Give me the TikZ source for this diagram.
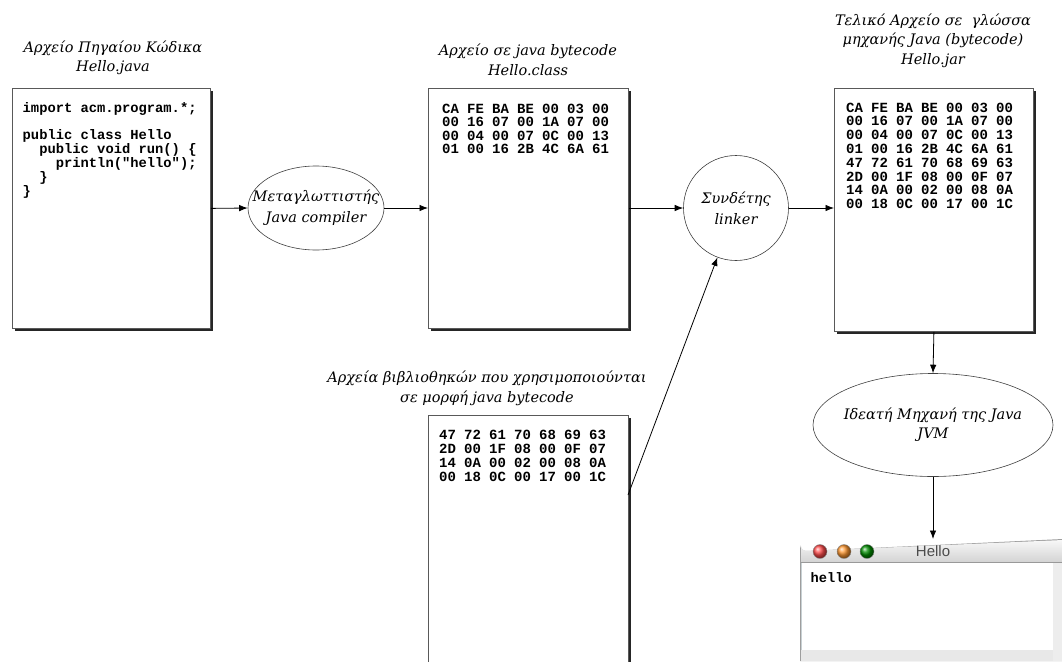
\documentclass[tikz,border=0pt]{standalone}
\usepackage{fontspec}
\setmainfont{DejaVu Serif}
\setmonofont{Liberation Mono}
\newfontfamily\winfont{Liberation Sans}
\usetikzlibrary{arrows.meta,shapes.geometric,shadows}
\newcommand{\hx}[1]{\makebox[25pt][l]{#1}}
\newcommand{\hexrow}[7]{\hx{#1}\hx{#2}\hx{#3}\hx{#4}\hx{#5}\hx{#6}#7}
\tikzset{
  filebox/.style={draw=black!65, fill=white, line width=0.8pt, inner sep=0pt,
    anchor=north west,
    drop shadow={shadow xshift=3pt, shadow yshift=-3pt, fill=black!85, opacity=1}},
  codetext/.style={anchor=north west, align=left, inner sep=0pt,
    font=\ttfamily\bfseries\fontsize{13.8}{13.8}\selectfont},
  hextext/.style={anchor=north west, align=left, inner sep=0pt,
    font=\ttfamily\bfseries\fontsize{14}{13.6}\selectfont},
  title/.style={align=center, inner sep=0pt,
    font=\itshape\fontsize{14.5}{19.5}\selectfont},
  proc/.style={draw=black!75, line width=0.6pt, ellipse, inner sep=0pt, align=center,
    font=\itshape\fontsize{14.5}{21}\selectfont},
  flow/.style={-{Latex[length=8.5pt,width=6.5pt]}, line width=0.8pt, black}
}
\begin{document}
\begin{tikzpicture}[x=1pt,y=-1pt]
\useasboundingbox (0,0) rectangle (1062,661);

% titles
\node[title] (t1) at (113,58) {Αρχείο Πηγαίου Κώδικα\\Hello.java};
\node[title] (t2) at (528,60) {Αρχείο σε java bytecode\\Hello.class};
\node[title] (t3) at (933,40.5) {Τελικό Αρχείο σε \ γλώσσα\\μηχανής Java (bytecode)\\Hello.jar};
\node[title] (tlib) at (487,388.5) {Αρχεία βιβλιοθηκών που χρησιμοποιούνται\\σε μορφή java bytecode};

% file boxes
\node[filebox, minimum width=198pt, minimum height=240pt] (box1) at (12,88) {};
\node[filebox, minimum width=200pt, minimum height=240pt] (box2) at (428,88) {};
\node[filebox, minimum width=199pt, minimum height=243pt] (box3) at (834,88) {};
\node[filebox, minimum width=200pt, minimum height=250pt] (lib) at (428,415) {};

% contents
\node[codetext] (code1) at (22.5,102) {import acm.program.*;\\[13.8pt]public class Hello\\
\ \ public void run() \{\\
\ \ \ \ println("hello");\\
\ \ \}\\
\}};
\node[hextext] (hex2) at (442,103.5) {\hexrow{CA}{FE}{BA}{BE}{00}{03}{00}\\
\hexrow{00}{16}{07}{00}{1A}{07}{00}\\
\hexrow{00}{04}{00}{07}{0C}{00}{13}\\
\hexrow{01}{00}{16}{2B}{4C}{6A}{61}};
\node[hextext, font=\ttfamily\bfseries\fontsize{14}{13.8}\selectfont] (hex3) at (846,102.5) {\hexrow{CA}{FE}{BA}{BE}{00}{03}{00}\\
\hexrow{00}{16}{07}{00}{1A}{07}{00}\\
\hexrow{00}{04}{00}{07}{0C}{00}{13}\\
\hexrow{01}{00}{16}{2B}{4C}{6A}{61}\\
\hexrow{47}{72}{61}{70}{68}{69}{63}\\
\hexrow{2D}{00}{1F}{08}{00}{0F}{07}\\
\hexrow{14}{0A}{00}{02}{00}{08}{0A}\\
\hexrow{00}{18}{0C}{00}{17}{00}{1C}};
\node[hextext, font=\ttfamily\bfseries\fontsize{14}{14}\selectfont] (hexlib) at (439,429.5) {\hexrow{47}{72}{61}{70}{68}{69}{63}\\
\hexrow{2D}{00}{1F}{08}{00}{0F}{07}\\
\hexrow{14}{0A}{00}{02}{00}{08}{0A}\\
\hexrow{00}{18}{0C}{00}{17}{00}{1C}};

% processes
\node[proc, minimum width=136pt, minimum height=84pt, inner xsep=-16pt] (comp) at (316,208) {Μεταγλωττιστής\\Java compiler};
\node[proc, circle, minimum size=105pt] (linker) at (736,208) {Συνδέτης\\linker};
\node[proc, minimum width=240pt, minimum height=103pt, inner xsep=-7pt, font=\itshape\fontsize{14.5}{19}\selectfont] (jvm) at (933,425) {Ιδεατή Μηχανή της Java\\JVM};

% window
\fill[black!38] (800,661) -- (800,545) arc[start angle=180,end angle=90,radius=6] -- (1063,539) -- (1063,661) -- cycle;
\shade[top color=black!3, bottom color=black!17] (801,562) -- (801,546) arc[start angle=180,end angle=90,radius=5] -- (1063,540) -- (1063,562) -- cycle;
\draw[black!40, line width=0.8pt] (801,562.5) -- (1063,562.5);
\fill[white] (801,563) rectangle (1063,661);
\draw[cyan!25!black!25, line width=1pt] (801.5,563) -- (801.5,661);
\fill[black!7] (1053,563) rectangle (1063,661);
\fill[black!9] (801,650) rectangle (1053,661);
\shade[ball color=red!70] (820,551.5) circle[radius=7];
\shade[ball color=orange!80] (844,551.5) circle[radius=7];
\shade[ball color=green!55!black] (867,551.5) circle[radius=7];
\draw[black!45, line width=0.4pt] (820,551.5) circle[radius=7] (844,551.5) circle[radius=7] (867,551.5) circle[radius=7];
\node[font=\winfont\fontsize{15}{15}\selectfont, text=black!70, inner sep=0pt] (wtitle) at (933,551.5) {Hello};
\node[font=\ttfamily\bfseries\fontsize{13.7}{13.7}\selectfont, anchor=west, inner sep=0pt] (hello) at (810.5,578) {hello};
\coordinate (wintop) at (933,539);
\coordinate (libout) at (628,495);

% connectors
\draw[flow] (box1.east) -- (comp.west);
\draw[flow] (comp.east) -- (box2.west |- comp.east);
\draw[flow] (box2.east |- linker.west) -- (linker.west);
\draw[flow] (linker.east) -- (box3.west |- linker.east);
\draw[flow] (libout) -- (linker);
\draw[flow] (box3.south) -- (jvm.north);
\draw[flow] (jvm.south) -- (wintop);
\end{tikzpicture}
\end{document}
